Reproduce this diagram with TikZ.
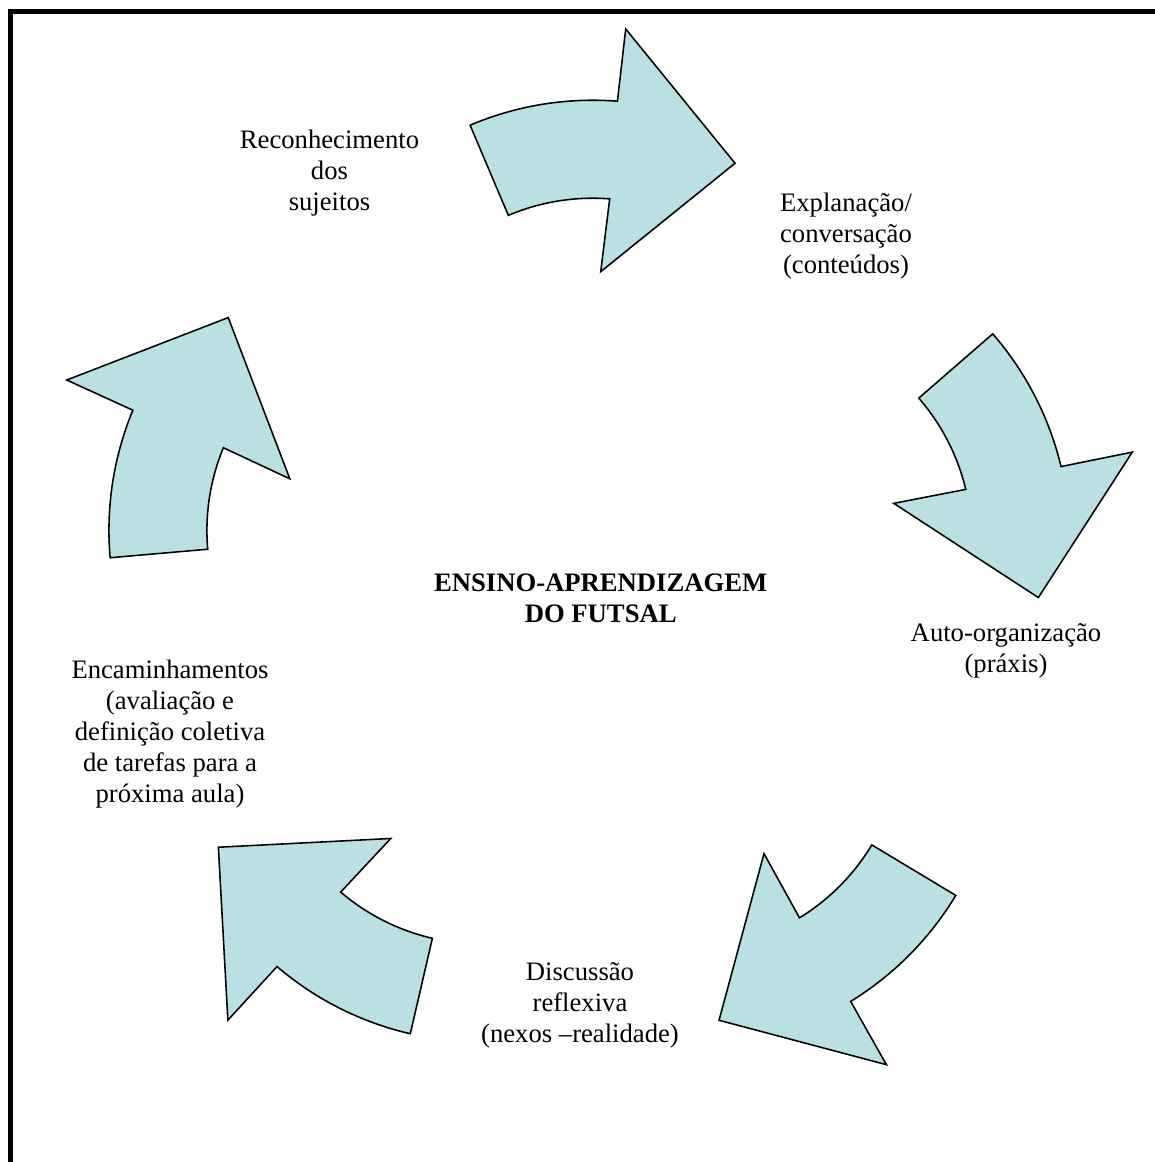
\documentclass[tikz,border=0pt]{standalone}
\usepackage{fontspec}
\setmainfont{Liberation Serif}
\usetikzlibrary{positioning}

\definecolor{setafill}{RGB}{186,224,227}

\begin{document}
\begin{tikzpicture}[
    x=0.45pt,
    y=0.45pt,
    font=\fontsize{12}{14}\selectfont,
    etapa/.style={
        align=center,
        inner sep=0pt
    },
    centro/.style={etapa, font=\fontsize{12}{14}\selectfont\bfseries},
    seta/.style={draw, line width=0.7pt, fill=setafill, line join=miter},
    moldura/.style={line width=2.3pt},
    cyclearrow/.pic={
        \draw[seta] (-117.7,464.0)
            arc[start angle=113, end angle=85.5, radius=314]
            -- (37.9,560.2) -- (147.2,425.9) -- (12.9,317.5)
            -- (21.9,390.3)
            arc[start angle=85.5, end angle=113, radius=216] -- cycle;
    }
]
\useasboundingbox (0,0) rectangle (1155,1162);

% ============================================================
% MOLDURA
% ============================================================
\draw[moldura] (10.8,0) -- (10.8,1150.2) -- (1155,1150.2);

% ============================================================
% CICLO DE SETAS
% ============================================================
\coordinate (C) at (587.8,572.8);

\pic (setaA) [rotate=0] at (C) {cyclearrow};
\pic (setaB) [rotate=-72] at (C) {cyclearrow};
\pic (setaC) [rotate=-144] at (C) {cyclearrow};
\pic (setaD) [rotate=-216] at (C) {cyclearrow};
\pic (setaE) [rotate=-288] at (C) {cyclearrow};

% ============================================================
% ETAPAS
% ============================================================
\node[centro] (futsal) at (600.7,564) {ENSINO-APRENDIZAGEM\\DO FUTSAL};

\node[etapa] (reconhecimento) at (329.5,989) {Reconhecimento\\dos\\sujeitos};
\node[etapa] (explanacao) at (846,926) {Explanação/\\conversação\\(conteúdos)};
\node[etapa] (autoorg) at (1006,511.5) {Auto-organização\\(práxis)};
\node[etapa] (discussao) at (580,157) {Discussão\\reflexiva\\(nexos –realidade)};
\node[etapa] (encaminhamentos) at (170,428) {Encaminhamentos\\(avaliação e\\definição coletiva\\de tarefas para a\\próxima aula)};

\end{tikzpicture}
\end{document}
